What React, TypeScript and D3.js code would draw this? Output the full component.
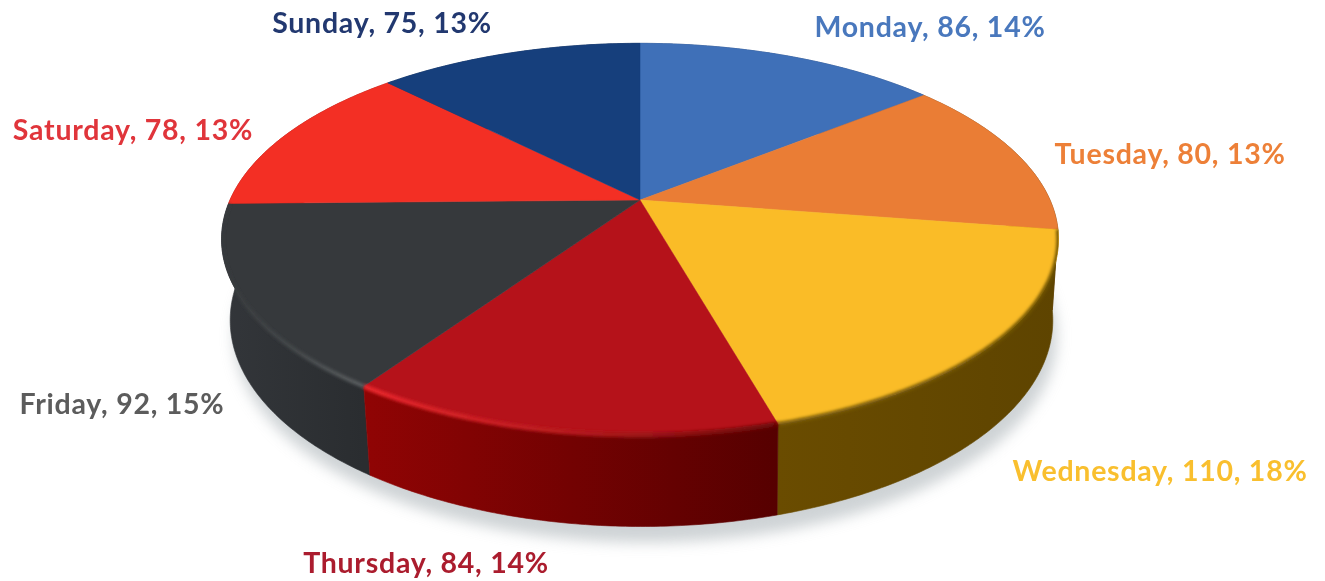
import React from "react";
import * as d3 from "d3";

const days = ["Monday", "Tuesday", "Wednesday", "Thursday", "Friday", "Saturday", "Sunday"];
const counts = [86, 80, 110, 84, 92, 78, 75];
const shares = ["14%", "13%", "18%", "14%", "15%", "13%", "13%"];

const topColors = ["#3f70b8", "#ea7d35", "#fabc27", "#b5121a", "#36393c", "#f32f24", "#163f7c"];
const wallLeft = ["#2c4a7c", "#8a5020", "#6a4c00", "#900404", "#33363a", "#a01c14", "#0e2a52"];
const wallRight = ["#2c4a7c", "#6a4010", "#5e4400", "#560000", "#2a2d30", "#a01c14", "#0e2a52"];
const rimLeft = ["none", "none", "#7a5c08", "#e8262c", "#36393c", "none", "none"];
const rimRight = ["none", "none", "#6e5206", "#6a0606", "#5a5e60", "none", "none"];
const labelColors = ["#4a78bd", "#ed8038", "#f9bf2e", "#ab1f2e", "#5c5c5c", "#e0343a", "#22396f"];

// Label centres, in page pixels
const labelX = [930, 1170, 1160, 426, 122, 133, 382];
const labelY = [26, 153, 470, 562, 403, 129, 22];

const W = 1325;
const H = 581;
const cx = 640;
const k = 0.2;
const rTop = 410;
const aTop = 188;
const yTop = 200;
const cxBottom = 641.5;
const rBottom = 403;
const aBottom = 198;
const yBottom = 279;

const project = (theta: number, x0: number, r: number, a: number, y0: number): [number, number] => {
  const p = Math.cos(theta);
  const d = 1 + k * p;
  return [x0 + (r * Math.sin(theta)) / d, y0 - (a * p) / d];
};
const onTop = (t: number) => project(t, cx, rTop, aTop, yTop);
const onBottom = (t: number) => project(t, cxBottom, rBottom, aBottom, yBottom);

const samples = (a0: number, a1: number) => {
  const n = Math.max(8, Math.ceil((a1 - a0) / 0.01));
  return d3.range(n + 1).map((i) => a0 + ((a1 - a0) * i) / n);
};

const line = d3.line<[number, number]>();
const arcs = d3.pie<number>().sort(null).startAngle(0).endAngle(2 * Math.PI)(counts);
const rows = days.map((day, i) => ({ day, i, a0: arcs[i].startAngle, a1: arcs[i].endAngle }));

// back-to-front paint order for the outer walls
const wallOrder = [...rows].sort(
  (u, v) => Math.cos((v.a0 + v.a1) / 2) - Math.cos((u.a0 + u.a1) / 2)
);

const fullBottom = line(samples(0, 2 * Math.PI).map(onBottom))! + "Z";
const fullTop = line(samples(0, 2 * Math.PI).map(onTop))! + "Z";
const wallPath = (a0: number, a1: number) => {
  const ts = samples(a0, a1);
  return line([...ts.map(onTop), ...[...ts].reverse().map(onBottom)])! + "Z";
};

export default function App() {
  return (
    <svg
      width={W}
      height={H}
      viewBox={`0 0 ${W} ${H}`}
      style={{ position: "absolute", left: 0, top: 0, display: "block", background: "#fff" }}
    >
      <defs>
        <filter id="shadow" x="-10%" y="-20%" width="120%" height="140%">
          <feGaussianBlur stdDeviation="7" />
        </filter>
        <filter id="soft" x="0" y="0" width={W} height={H} filterUnits="userSpaceOnUse">
          <feGaussianBlur stdDeviation="1.6" />
        </filter>
        <filter id="textSoft" x="-5%" y="-20%" width="110%" height="140%">
          <feGaussianBlur stdDeviation="0.45" />
        </filter>
        <clipPath id="silhouette">
          <path d={fullTop} />
          {rows.map(({ i, a0, a1 }) => (
            <path key={i} d={wallPath(a0, a1)} />
          ))}
        </clipPath>
        {rows.map(({ i, a0, a1 }) => {
          const xs = samples(a0, a1).map((t) => onTop(t)[0]);
          const [x0, x1] = d3.extent(xs) as [number, number];
          return (
            <React.Fragment key={i}>
              <linearGradient id={`wall${i}`} gradientUnits="userSpaceOnUse" x1={x0} x2={x1} y1={0} y2={0}>
                <stop offset="0" stopColor={wallLeft[i]} />
                <stop offset="1" stopColor={wallRight[i]} />
              </linearGradient>
              {rimLeft[i] !== "none" && (
                <linearGradient id={`rim${i}`} gradientUnits="userSpaceOnUse" x1={x0} x2={x1} y1={0} y2={0}>
                  <stop offset="0" stopColor={rimLeft[i]} />
                  <stop offset="0.5" stopColor={d3.interpolateRgb(rimLeft[i], rimRight[i])(0.4)} />
                  <stop offset="1" stopColor={rimRight[i]} />
                </linearGradient>
              )}
            </React.Fragment>
          );
        })}
      </defs>

      <path d={fullBottom} fill="#aeb6ba" opacity={0.6} transform="translate(4,16)" filter="url(#shadow)" />

      {wallOrder.map(({ i, a0, a1 }) => (
        <path key={i} d={wallPath(a0, a1)} fill={`url(#wall${i})`} stroke={`url(#wall${i})`} strokeWidth={0.6} />
      ))}

      {rows.map(({ i, a0, a1 }) => {
        const pts: [number, number][] = [[cx, yTop], ...samples(a0, a1).map(onTop)];
        return <path key={i} d={line(pts)! + "Z"} fill={topColors[i]} stroke={topColors[i]} strokeWidth={0.5} />;
      })}

      <g clipPath="url(#silhouette)">
        {rows
          .filter(({ i }) => rimLeft[i] !== "none")
          .map(({ i, a0, a1 }) => {
            const lo = Math.max(a0, 0);
            const hi = Math.min(a1, (3 * Math.PI) / 2 + 0.12);
            return (
              <path
                key={i}
                d={line(samples(lo, hi).map(onTop))!}
                fill="none"
                stroke={`url(#rim${i})`}
                strokeWidth={i === 3 ? 5 : 4}
                strokeLinecap="butt"
                filter="url(#soft)"
              />
            );
          })}
      </g>

      {rows.map(({ day, i }) => (
        <text
          key={day}
          x={labelX[i]}
          y={labelY[i]}
          textAnchor="middle"
          dominantBaseline="central"
          fontFamily="Lato, 'Open Sans', sans-serif"
          fontWeight={700}
          fontSize={28.5}
          letterSpacing={0.75}
          fill={labelColors[i]}
          filter="url(#textSoft)"
        >
          {`${day}, ${counts[i]}, ${shares[i]}`}
        </text>
      ))}
    </svg>
  );
}
